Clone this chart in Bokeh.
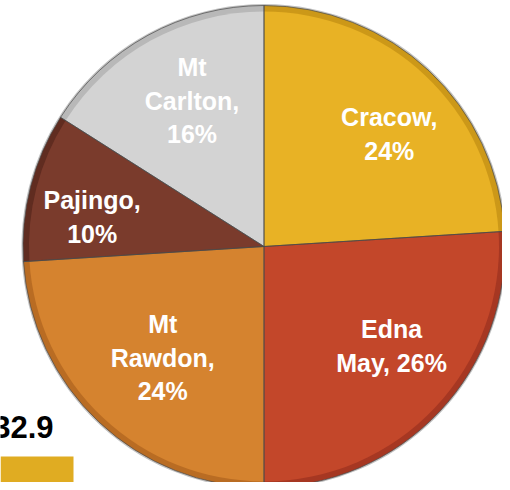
import math
from bokeh.plotting import figure
from bokeh.models import Range1d, ColumnDataSource
from bokeh.core.properties import value
from bokeh.embed import file_html
from bokeh.resources import INLINE

# ---- data ----
categories = ["Cracow", "Edna May", "Mt Rawdon", "Pajingo", "Mt Carlton"]
shares = [24, 26, 24, 10, 16]
label_names = ["Cracow,\n", "Edna\nMay, ", "Mt\nRawdon,\n", "Pajingo,\n", "Mt\nCarlton,\n"]
colors = ["#E8B225", "#C3472A", "#D5832F", "#7A3B2C", "#D3D3D3"]
edge_colors = ["#CC9818", "#A63722", "#B96C23", "#602C20", "#B8B8B8"]
bg_value = "32.9"

# ---- layout (pixel-like coordinates, y up) ----
W, H = 502, 482
cx, cy, R = 263.5, 490 - 246, 241
label_r = 164
label_dx = [13, 8, 11, -13, 7]
label_dy = [-7, 13, 8.5, -11, 2]

p = figure(width=W, height=H, output_backend="svg", toolbar_location=None,
           x_range=Range1d(0, W), y_range=Range1d(490 - H, 490),
           x_axis_type=None, y_axis_type=None, min_border=0)
p.outline_line_color = None
p.grid.visible = False
p.background_fill_color = "white"

# background fragment of another chart
p.quad(left=[0], right=[73], bottom=[0], top=[34], fill_color="#E0AC22", line_color=None)
p.text(x=[53], y=[490 - 426], text=[bg_value], text_align="right", text_baseline="alphabetic",
       text_font=value("Liberation Sans"), text_font_style="bold", text_font_size="31px",
       text_color="black")

total = sum(shares)
starts, ends, mids = [], [], []
cum = 0
for s in shares:
    a0 = math.radians(90 - cum / total * 360)
    cum += s
    a1 = math.radians(90 - cum / total * 360)
    starts.append(a0); ends.append(a1); mids.append((a0 + a1) / 2)

src = ColumnDataSource(dict(start=starts, end=ends, color=colors, edge=edge_colors))
# outer shadow
p.wedge(x=cx, y=cy, radius=R + 1.5, start_angle=0, end_angle=2 * math.pi,
        fill_color="#9a9a9a", line_color=None, fill_alpha=0.6)
p.wedge(x=cx, y=cy, radius=R, start_angle="start", end_angle="end", direction="clock",
        fill_color="edge", line_color=None, source=src)
p.wedge(x=cx, y=cy, radius=R - 6, start_angle="start", end_angle="end", direction="clock",
        fill_color="color", line_color=None, source=src)
p.wedge(x=cx, y=cy, radius=R, start_angle="start", end_angle="end", direction="clock",
        fill_color=None, line_color="#4a4a4a", line_width=1, line_alpha=0.7, source=src)

lx, ly, lt = [], [], []
for i in range(len(shares)):
    lx.append(cx + label_r * math.cos(mids[i]) + label_dx[i])
    ly.append(cy + label_r * math.sin(mids[i]) + label_dy[i])
    lt.append(f"{label_names[i]}{shares[i]}%")

p.text(x=lx, y=ly, text=lt, text_align="center", text_baseline="middle",
       text_font=value("Liberation Sans"), text_font_style="bold", text_font_size="25px",
       text_color="white", text_line_height=1.2)

open("out.html", "w").write(file_html(p, INLINE))
